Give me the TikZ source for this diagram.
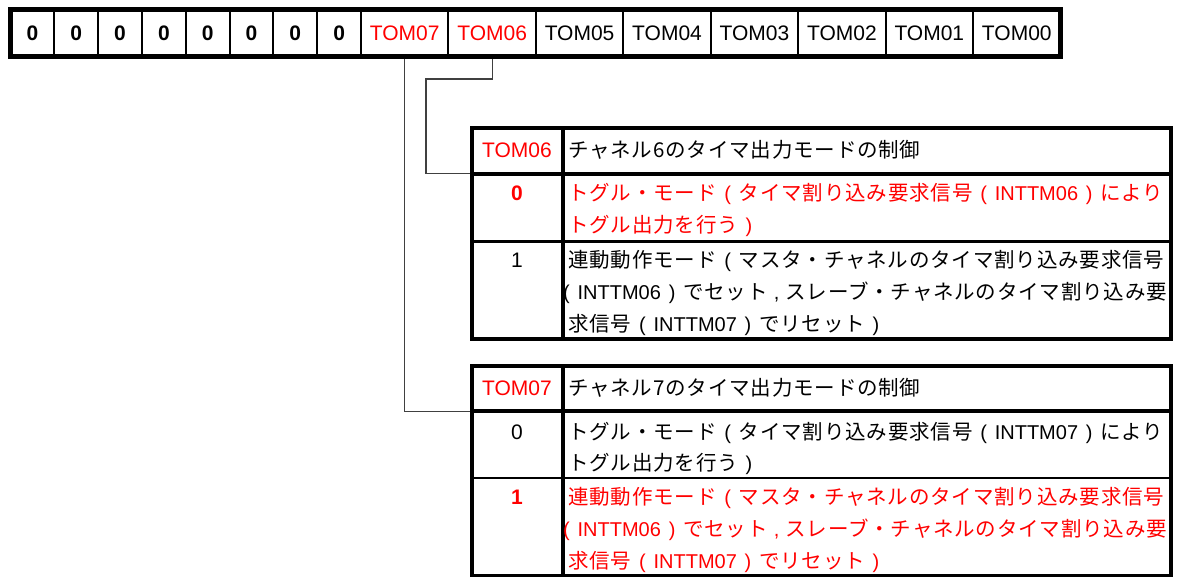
\documentclass[tikz,border=0pt]{standalone}
\usepackage{fontspec}
\setmainfont{Liberation Sans}
\newfontfamily\cjk[LetterSpace=4]{Noto Sans CJK JP}
\definecolor{tred}{RGB}{255,0,0}
\newcommand{\lat}[1]{{\rmfamily\fontsize{20}{24}\selectfont #1}}
\newcommand{\lpar}{\hspace{.38em}\lat{(}\hspace{.38em}}
\newcommand{\rpar}{\hspace{.38em}\lat{)}\hspace{.38em}}
\newcommand{\jcomma}{\hspace{.3em}\lat{,}\hspace{.3em}}
\begin{document}
\begin{tikzpicture}[x=1pt,y=-1pt,
  lat/.style={font=\fontsize{21}{24}\selectfont, inner sep=0pt},
  jp/.style={font=\fontsize{20.5}{24}\selectfont\cjk, inner sep=0pt, anchor=base west},
  regcell/.style={draw, line width=2pt, minimum height=46.5pt, inner sep=0pt, outer sep=0pt, font=\fontsize{21}{24}\selectfont},
  conn/.style={draw=black!75, line width=1.3pt},
  thick border/.style={line width=4pt},
  thin border/.style={line width=2.6pt}
]
\useasboundingbox (0,0) rectangle (1179,577);
\fill[white] (0,0) rectangle (1179,577);

% register cells
\foreach \i in {0,...,7}
  \node[regcell, minimum width=43.8125pt, font=\fontsize{21}{24}\selectfont\bfseries] (z\i) at ({10.5+43.8125*(\i+0.5)},33.25) {0};
\node[regcell, minimum width=87.4375pt, text=tred] (tom07) at ({361+87.4375*0.5},33.25) {TOM07};
\node[regcell, minimum width=87.4375pt, text=tred] (tom06) at ({361+87.4375*1.5},33.25) {TOM06};
\foreach \n [count=\k from 2] in {05,04,03,02,01,00}
  \node[regcell, minimum width=87.4375pt] (tom\n) at ({361+87.4375*(\k+0.5)},33.25) {TOM\n};

% connectors
\coordinate (t1join) at (471.5,173.7);
\coordinate (t2join) at (471.5,411.3);
\coordinate (bend6) at (426,79);
\draw[conn] (tom07.south) |- (t2join);
\draw[conn] (tom06.south) |- (bend6) |- (t1join);

\draw[line width=5pt] (z0.north west) rectangle (tom00.south east);

% table 1 (TOM06)
\draw[thick border] (471.5,128) rectangle (1171,339);
\draw[thick border] (563,128) -- (563,339);
\draw[thick border] (471.5,173.7) -- (1171,173.7);
\draw[thin border] (471.5,241.5) -- (1171,241.5);

\node[lat, text=tred] (t1k) at (517,150) {TOM06};
\node[jp] (t1d) at (568,157.5) {チャネル6のタイマ出力モードの制御};
\node[lat, text=tred, font=\fontsize{21}{24}\selectfont\bfseries] (t1v0) at (517,193) {0};
\node[jp, text=tred] (t1a1) at (568,200.5) {トグル・モード\lpar タイマ割り込み要求信号\lpar\lat{INTTM06}\rpar により};
\node[jp, text=tred] (t1a2) at (568,232.5) {トグル出力を行う\rpar};
\node[lat] (t1v1) at (517,260.5) {1};
\node[jp] (t1b1) at (568,268) {連動動作モード\lpar マスタ・チャネルのタイマ割り込み要求信号};
\node[jp] (t1b2) at (563,300) {\lat{(}\hspace{.38em}\lat{INTTM06}\rpar でセット\jcomma スレーブ・チャネルのタイマ割り込み要};
\node[jp] (t1b3) at (568,332) {求信号\lpar\lat{INTTM07}\rpar でリセット\rpar};

% table 2 (TOM07)
\draw[thick border] (471.5,366) rectangle (1171,575.5);
\draw[thick border] (563,366) -- (563,575.5);
\draw[thick border] (471.5,411.3) -- (1171,411.3);
\draw[thin border] (471.5,478) -- (1171,478);

\node[lat, text=tred] (t2k) at (517,388) {TOM07};
\node[jp] (t2d) at (568,395.5) {チャネル7のタイマ出力モードの制御};
\node[lat] (t2v0) at (517,432) {0};
\node[jp] (t2a1) at (568,439.5) {トグル・モード\lpar タイマ割り込み要求信号\lpar\lat{INTTM07}\rpar により};
\node[jp] (t2a2) at (568,471) {トグル出力を行う\rpar};
\node[lat, text=tred, font=\fontsize{21}{24}\selectfont\bfseries] (t2v1) at (517,497) {1};
\node[jp, text=tred] (t2b1) at (568,504.5) {連動動作モード\lpar マスタ・チャネルのタイマ割り込み要求信号};
\node[jp, text=tred] (t2b2) at (563,536.5) {\lat{(}\hspace{.38em}\lat{INTTM06}\rpar でセット\jcomma スレーブ・チャネルのタイマ割り込み要};
\node[jp, text=tred] (t2b3) at (568,568.5) {求信号\lpar\lat{INTTM07}\rpar でリセット\rpar};
\end{tikzpicture}
\end{document}
